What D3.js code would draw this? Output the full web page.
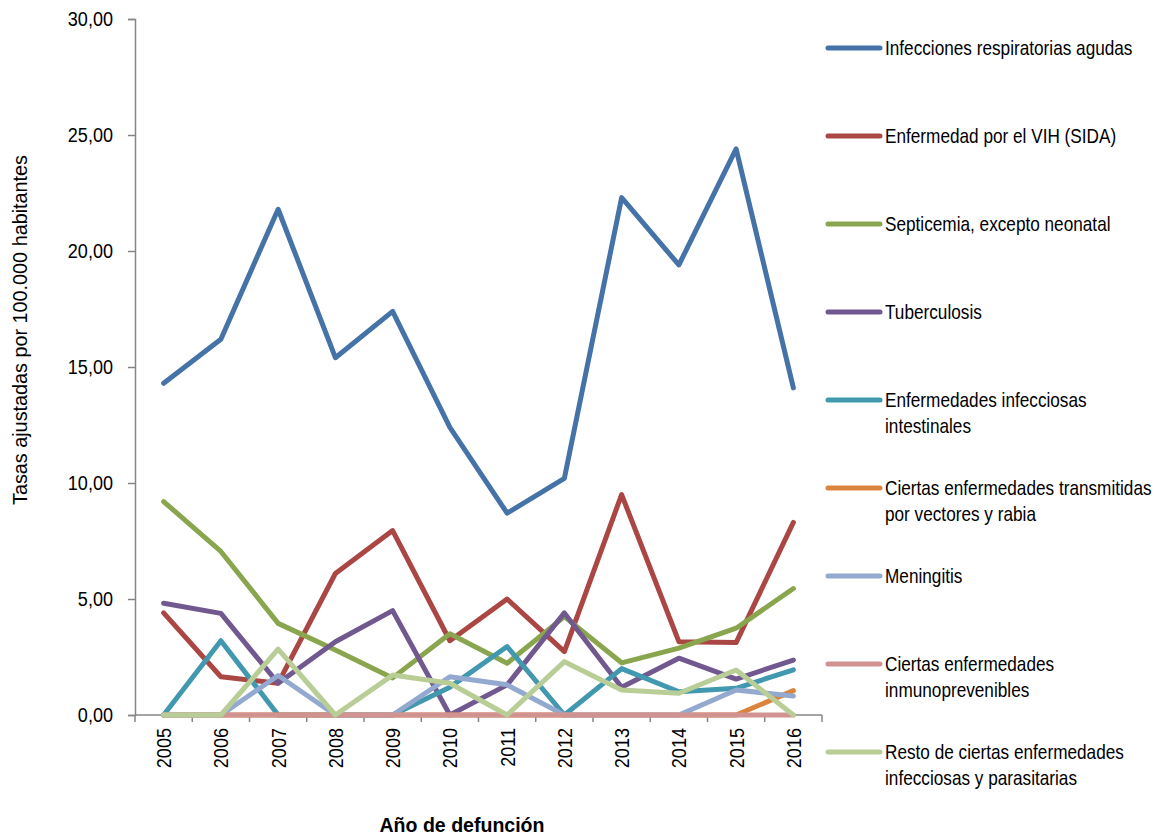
<!DOCTYPE html>
<html>
<head>
<meta charset="utf-8">
<script src="https://cdn.jsdelivr.net/npm/d3@7"></script>
<style>
  body { margin: 0; background: #fff; }
  svg text { font-family: "Liberation Sans", Arial, sans-serif; fill: #000; }
</style>
</head>
<body>
<div id="chart"></div>
<script>
// Data
var years = ['2005','2006','2007','2008','2009','2010','2011','2012','2013','2014','2015','2016'];
var seriesNames = [
  ['Infecciones respiratorias agudas'],
  ['Enfermedad por el VIH (SIDA)'],
  ['Septicemia, excepto neonatal'],
  ['Tuberculosis'],
  ['Enfermedades infecciosas', 'intestinales'],
  ['Ciertas enfermedades transmitidas', 'por vectores y rabia'],
  ['Meningitis'],
  ['Ciertas enfermedades', 'inmunoprevenibles'],
  ['Resto de ciertas enfermedades', 'infecciosas y parasitarias']
];
var respiratorias  = [14.3, 16.2, 21.8, 15.4, 17.4, 12.4, 8.7, 10.2, 22.3, 19.4, 24.4, 14.1];
var vih            = [4.4, 1.65, 1.37, 6.1, 7.95, 3.2, 5.0, 2.73, 9.5, 3.16, 3.12, 8.3];
var septicemia     = [9.2, 7.05, 3.95, 2.8, 1.6, 3.5, 2.23, 4.24, 2.25, 2.88, 3.74, 5.45];
var tuberculosis   = [4.82, 4.38, 1.37, 3.16, 4.5, 0.0, 1.3, 4.4, 1.2, 2.45, 1.55, 2.37];
var intestinales   = [0.0, 3.2, 0.0, 0.0, 0.0, 1.2, 2.95, 0.0, 2.0, 1.0, 1.15, 1.95];
var vectores       = [0, 0, 0, 0, 0, 0, 0, 0, 0, 0, 0, 1.05];
var meningitis     = [0.0, 0.0, 1.7, 0.0, 0.0, 1.65, 1.3, 0.0, 0.0, 0.0, 1.08, 0.82];
var inmuno         = [0, 0, 0, 0, 0, 0, 0, 0, 0, 0, 0, 0];
var resto          = [0.0, 0.0, 2.84, 0.0, 1.72, 1.37, 0.0, 2.3, 1.08, 0.94, 1.94, 0.0];
var yTicks = [0, 5, 10, 15, 20, 25, 30];

var colors = ['#4572A7', '#AA4643', '#89A54E', '#71588F', '#4198AF', '#DB843D', '#93A9CF', '#D19392', '#B9CD96'];
var allSeries = [respiratorias, vih, septicemia, tuberculosis, intestinales, vectores, meningitis, inmuno, resto];

var width = 1162, height = 835;
var margin = {left: 135, top: 19, right: 340, bottom: 120};
var narrow = 0.86; // the reference uses a condensed face

var svg = d3.select('#chart').append('svg')
  .attr('width', width)
  .attr('height', height);

var x = d3.scaleBand()
  .domain(years)
  .range([margin.left, width - margin.right]);

var y = d3.scaleLinear()
  .domain([0, 30])
  .range([height - margin.bottom, margin.top]);

var fmt = function(d) { return d3.format('.2f')(d).replace('.', ','); };

// y axis
var yAxis = svg.append('g')
  .attr('transform', 'translate(' + margin.left + ',0)')
  .call(d3.axisLeft(y).tickValues(yTicks).tickFormat(fmt).tickSize(7).tickPadding(0));
yAxis.selectAll('text')
  .attr('x', 0)
  .attr('transform', 'translate(-22,0) scale(' + narrow + ',1)')
  .style('font-size', '21px');

// x axis, ticks between categories
var xAxis = svg.append('g')
  .attr('transform', 'translate(0,' + y(0) + ')');
xAxis.append('line')
  .attr('x1', x.range()[0]).attr('x2', x.range()[1])
  .attr('y1', 0).attr('y2', 0);
xAxis.selectAll('.tk')
  .data(years.concat(['end']))
  .enter().append('line')
  .attr('class', 'tk')
  .attr('x1', function(d, i) { return x.range()[0] + i * x.step(); })
  .attr('x2', function(d, i) { return x.range()[0] + i * x.step(); })
  .attr('y1', 0).attr('y2', 7);
xAxis.selectAll('text')
  .data(years)
  .enter().append('text')
  .attr('transform', function(d) { return 'translate(' + (x(d) + x.bandwidth() / 2 + 7.5) + ',13) rotate(-90) scale(' + narrow + ',1)'; })
  .attr('text-anchor', 'end')
  .style('font-size', '21px')
  .text(function(d) { return d; });

svg.selectAll('.domain, .tick line').attr('stroke', '#868686').attr('stroke-width', 1.5);
xAxis.selectAll('line').attr('stroke', '#868686').attr('stroke-width', 1.5);

// axis titles
svg.append('text')
  .attr('transform', 'translate(27,330) rotate(-90)')
  .attr('text-anchor', 'middle')
  .attr('textLength', 350)
  .attr('lengthAdjust', 'spacingAndGlyphs')
  .style('font-size', '20px')
  .text('Tasas ajustadas por 100.000 habitantes');

svg.append('text')
  .attr('x', 462).attr('y', 832)
  .attr('text-anchor', 'middle')
  .attr('textLength', 165)
  .attr('lengthAdjust', 'spacingAndGlyphs')
  .style('font-size', '20px')
  .style('font-weight', 'bold')
  .text('Año de defunción');

// lines
var line = d3.line()
  .x(function(d, i) { return x(years[i]) + x.bandwidth() / 2; })
  .y(function(d) { return y(d); });

svg.selectAll('.series')
  .data(allSeries)
  .enter().append('path')
  .attr('class', 'series')
  .attr('d', line)
  .attr('fill', 'none')
  .attr('stroke', function(d, i) { return colors[i]; })
  .attr('stroke-width', 5)
  .attr('stroke-linecap', 'round')
  .attr('stroke-linejoin', 'round');

// legend
var legend = svg.selectAll('.legend')
  .data(seriesNames)
  .enter().append('g')
  .attr('class', 'legend')
  .attr('transform', function(d, i) { return 'translate(828,' + (48 + i * 88) + ')'; });

legend.append('line')
  .attr('x1', 0).attr('x2', 52)
  .attr('stroke', function(d, i) { return colors[i]; })
  .attr('stroke-width', 5)
  .attr('stroke-linecap', 'round');

legend.each(function(d) {
  var t = d3.select(this).append('text')
    .attr('transform', 'translate(57,7) scale(' + narrow + ',1)')
    .style('font-size', '20px');
  d.forEach(function(s, j) {
    t.append('tspan').attr('x', 0).attr('dy', j == 0 ? 0 : 26).text(s);
  });
});
</script>
</body>
</html>
